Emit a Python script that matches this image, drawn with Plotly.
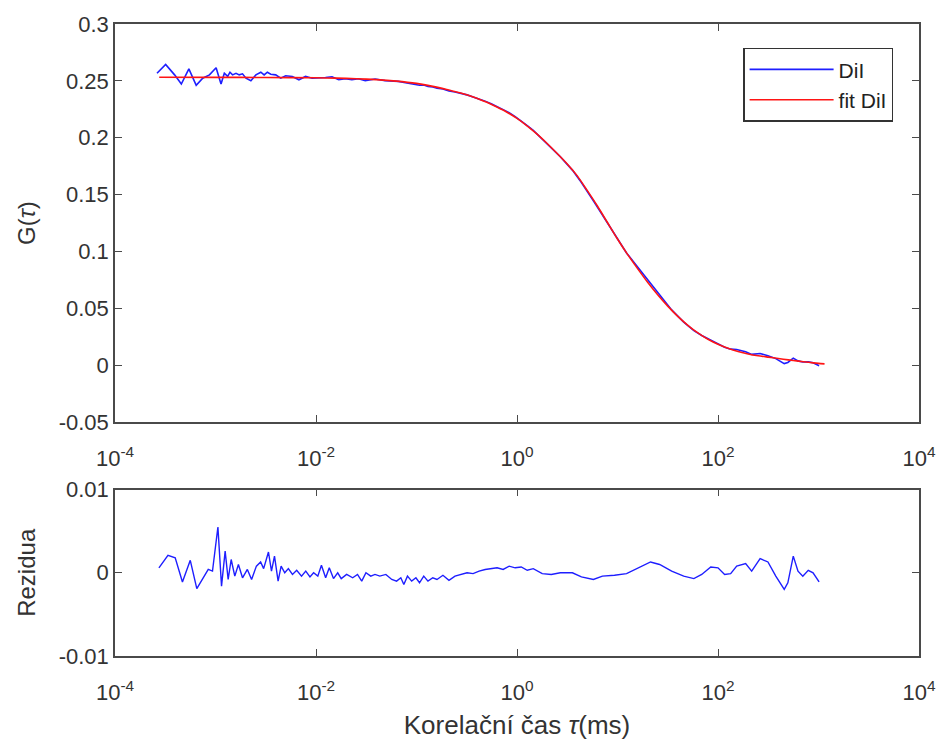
import numpy as np
import plotly.graph_objects as go
from plotly.subplots import make_subplots

# ---- data ----
# measured autocorrelation of DiI: log10(tau / ms) and G(tau)
data_log_tau = [
    -3.582, -3.496, -3.407, -3.340, -3.265, -3.192, -3.127, -3.060, -2.994, -2.945,
    -2.912, -2.879, -2.856, -2.830, -2.796, -2.764, -2.731, -2.697, -2.648, -2.598,
    -2.549, -2.516, -2.484, -2.450, -2.401, -2.351, -2.302, -2.236, -2.170, -2.104,
    -2.039, -1.972, -1.906, -1.841, -1.774, -1.708, -1.643, -1.577, -1.510, -1.412,
    -1.313, -1.181, -1.049,
    -1.006, -0.970, -0.928, -0.886, -0.838, -0.796, -0.737, -0.677, -0.617, -0.557,
    -0.497, -0.437, -0.377, -0.317, -0.257, -0.198, -0.138, -0.078, -0.018, 0.042,
    0.102, 0.162, 0.251, 0.341, 0.431, 0.551, 0.641, 0.760, 0.850, 0.970,
    1.090, 1.210, 1.329, 1.419, 1.539, 1.659, 1.760, 1.838, 1.928, 2.000,
    2.066, 2.126, 2.186, 2.275, 2.335, 2.419, 2.497, 2.575, 2.659, 2.695,
    2.749, 2.796, 2.844, 2.898, 2.946, 3.006,
]
g_data = [
    0.2567, 0.2645, 0.2553, 0.2472, 0.2605, 0.2461, 0.2524, 0.2553, 0.2616, 0.2472,
    0.2567, 0.2539, 0.2576, 0.2553, 0.2567, 0.2553, 0.2562, 0.2524, 0.2502, 0.2553,
    0.2576, 0.2553, 0.2576, 0.2559, 0.2553, 0.2524, 0.2545, 0.2539, 0.2510, 0.2539,
    0.2524, 0.2524, 0.2530, 0.2536, 0.2510, 0.2519, 0.2510, 0.2519, 0.2502, 0.2516,
    0.2502, 0.2496, 0.2476,
    0.2473, 0.2462, 0.2463, 0.2450, 0.2446, 0.2436, 0.2429, 0.2411, 0.2402, 0.2390,
    0.2377, 0.2358, 0.2342, 0.2322, 0.2299, 0.2275, 0.2246, 0.2221, 0.2186, 0.2150,
    0.2107, 0.2065, 0.1991, 0.1912, 0.1833, 0.1716, 0.1607, 0.1446, 0.1324, 0.1151,
    0.0988, 0.0853, 0.0718, 0.0615, 0.0487, 0.0380, 0.0305, 0.0262, 0.0224, 0.0191,
    0.0159, 0.0142, 0.0139, 0.0120, 0.0096, 0.0104, 0.0085, 0.0059, 0.0015, 0.0025,
    0.0063, 0.0039, 0.0029, 0.0030, 0.0022, -0.0004,
]
# residuals (lower panel)
res_log_tau = [
    -3.563, -3.473, -3.401, -3.329, -3.251, -3.186, -3.072, -3.030, -2.976, -2.940,
    -2.904, -2.874, -2.844, -2.808, -2.772, -2.731, -2.683, -2.641, -2.593, -2.551,
    -2.521, -2.473, -2.443, -2.413, -2.377, -2.347, -2.311, -2.275, -2.234, -2.192,
    -2.144, -2.102, -2.060, -2.024, -1.982, -1.946, -1.904, -1.868, -1.826, -1.784,
    -1.749, -1.695, -1.635, -1.587, -1.545, -1.503, -1.455, -1.413, -1.365, -1.305,
    -1.246, -1.198, -1.156, -1.126, -1.090, -1.048, -1.006, -0.970, -0.928, -0.886,
    -0.838, -0.796, -0.737, -0.677, -0.617, -0.557, -0.497, -0.437, -0.377, -0.317,
    -0.257, -0.198, -0.138, -0.078, -0.018, 0.042, 0.102, 0.162, 0.251, 0.341,
    0.431, 0.551, 0.641, 0.760, 0.850, 0.970, 1.090, 1.210, 1.329, 1.419,
    1.539, 1.659, 1.760, 1.838, 1.928, 2.000, 2.066, 2.126, 2.186, 2.275,
    2.335, 2.419, 2.497, 2.575, 2.659, 2.695, 2.749, 2.796, 2.844, 2.898,
    2.946, 3.006,
]
residuals = [
    0.0006, 0.0021, 0.0018, -0.0011, 0.0015, -0.0019, 0.0004, 0.0002, 0.0055, -0.0016,
    0.0026, -0.0008, 0.0016, -0.0004, 0.0010, -0.0006, 0.0004, -0.0008, 0.0008, 0.0013,
    0.0005, 0.0025, 0.0002, 0.0020, -0.0010, 0.0008, 0.0000, 0.0005, -0.0002, 0.0003,
    -0.0004, 0.0002, -0.0005, 0.0000, -0.0004, 0.0009, -0.0006, 0.0006, -0.0007, 0.0000,
    -0.0007, -0.0002, -0.0006, -0.0002, -0.0010, 0.0000, -0.0004, -0.0002, -0.0004, -0.0002,
    -0.0008, -0.0010, -0.0006, -0.0014, -0.0004, -0.0010, -0.0006, -0.0012, -0.0004, -0.0010,
    -0.0006, -0.0008, -0.0003, -0.0009, -0.0004, -0.0002, 0.0000, -0.0001, 0.0002, 0.0004,
    0.0005, 0.0006, 0.0004, 0.0008, 0.0006, 0.0007, 0.0003, 0.0005, -0.0001, -0.0002,
    0.0000, 0.0000, -0.0005, -0.0008, -0.0004, -0.0003, -0.0001, 0.0006, 0.0013, 0.0010,
    0.0002, -0.0004, -0.0007, -0.0002, 0.0007, 0.0006, -0.0002, -0.0001, 0.0008, 0.0011,
    0.0002, 0.0017, 0.0013, -0.0004, -0.0020, -0.0012, 0.0020, 0.0002, -0.0004, 0.0003,
    0.0000, -0.0011,
]
# fitted curve
fit_log_tau = [
    -3.56, -3.0, -2.5, -2.0, -1.8, -1.6, -1.4, -1.2, -1.0, -0.9, -0.8, -0.7, -0.6, -0.5,
    -0.4, -0.3, -0.2, -0.1, 0.0, 0.1, 0.2, 0.3, 0.4, 0.5, 0.6, 0.7, 0.8, 0.9, 1.0, 1.1,
    1.2, 1.3, 1.4, 1.5, 1.6, 1.7, 1.8, 1.9, 2.0, 2.1, 2.2, 2.3, 2.4, 2.5, 2.6, 2.7, 2.8,
    2.9, 3.0, 3.06,
]
g_fit = [
    0.2532, 0.2531, 0.2530, 0.2527, 0.2524, 0.2519, 0.2511, 0.2498, 0.2478, 0.2463, 0.2445,
    0.2425, 0.2402, 0.2378, 0.2348, 0.2312, 0.2270, 0.2225, 0.2170, 0.2105, 0.2032, 0.1950,
    0.1862, 0.1770, 0.1665, 0.1535, 0.1400, 0.1255, 0.1110, 0.0975, 0.0850, 0.0730, 0.0620,
    0.0520, 0.0430, 0.0352, 0.0285, 0.0229, 0.0185, 0.0150, 0.0122, 0.0100, 0.0084, 0.0072,
    0.0060, 0.0048, 0.0037, 0.0027, 0.0017, 0.0013,
]

x_tickvals = [1e-4, 1e-2, 1e0, 1e2, 1e4]
x_ticktext = ["10<sup>-4</sup>", "10<sup>-2</sup>", "10<sup>0</sup>", "10<sup>2</sup>", "10<sup>4</sup>"]
y1_tickvals = [-0.05, 0, 0.05, 0.1, 0.15, 0.2, 0.25, 0.3]
y1_ticktext = ["-0.05", "0", "0.05", "0.1", "0.15", "0.2", "0.25", "0.3"]
y2_tickvals = [-0.01, 0, 0.01]
y2_ticktext = ["-0.01", "0", "0.01"]

tau_data = 10 ** np.array(data_log_tau)
tau_res = 10 ** np.array(res_log_tau)
tau_fit = 10 ** np.array(fit_log_tau)

# ---- figure ----
W, H = 948, 747
ml, mr, mt, mb = 115, 24, 23, 86
ph = H - mt - mb

fig = make_subplots(rows=2, cols=1)

BLUE = "rgb(30,30,255)"
RED = "rgb(255,20,20)"
fig.add_trace(go.Scatter(x=tau_data, y=g_data, mode="lines", name="DiI",
                         line=dict(color=BLUE, width=1.6)), row=1, col=1)
fig.add_trace(go.Scatter(x=tau_fit, y=g_fit, mode="lines", name="fit DiI",
                         line=dict(color=RED, width=1.6, shape="spline", smoothing=0.6)), row=1, col=1)
fig.add_trace(go.Scatter(x=tau_res, y=residuals, mode="lines", showlegend=False,
                         line=dict(color=BLUE, width=1.4)), row=2, col=1)

FONT = "Liberation Sans, Arial, sans-serif"
AXC = "#4a4a4a"
TXT = "#333333"
common_axis = dict(showline=True, linecolor=AXC, linewidth=1.6, mirror="allticks",
                   ticks="inside", ticklen=7, tickwidth=1.4, tickcolor=AXC,
                   showgrid=False, zeroline=False,
                   tickfont=dict(family=FONT, size=22, color=TXT))
x_extra = dict(ticklabelstandoff=16)

top_bottom = (661 - 425) / ph
bot_top = (661 - 493) / ph

fig.update_layout(
    width=W, height=H,
    margin=dict(l=ml, r=mr, t=mt, b=mb),
    paper_bgcolor="white", plot_bgcolor="white",
    font=dict(family=FONT, color=TXT),
    xaxis=dict(type="log", range=[-4, 4], tickvals=x_tickvals, ticktext=x_ticktext,
               domain=[0, 1], anchor="y", **common_axis, **x_extra),
    yaxis=dict(range=[-0.05, 0.3], tickvals=y1_tickvals, ticktext=y1_ticktext,
               domain=[top_bottom, 1], anchor="x",
               title=dict(text="G(<i>τ</i>)", font=dict(family=FONT, size=24, color=TXT), standoff=16),
               **common_axis),
    xaxis2=dict(type="log", range=[-4, 4], tickvals=x_tickvals, ticktext=x_ticktext,
                domain=[0, 1], anchor="y2",
                title=dict(text="Korelační čas <i>τ</i>(ms)", font=dict(family=FONT, size=26, color=TXT), standoff=12),
                **common_axis, **x_extra),
    yaxis2=dict(range=[-0.01, 0.01], tickvals=y2_tickvals, ticktext=y2_ticktext,
                domain=[0, bot_top], anchor="x2",
                title=dict(text="Rezidua", font=dict(family=FONT, size=24, color=TXT), standoff=16),
                **common_axis),
    legend=dict(x=(747 - ml) / (W - ml - mr), y=(661 - 47) / ph, xanchor="left", yanchor="top",
                bgcolor="white", bordercolor="#333333", borderwidth=1.5,
                font=dict(family=FONT, size=21, color="#222222"), itemwidth=84,
                tracegroupgap=4),
    showlegend=True,
)

fig.write_html("out.html")
